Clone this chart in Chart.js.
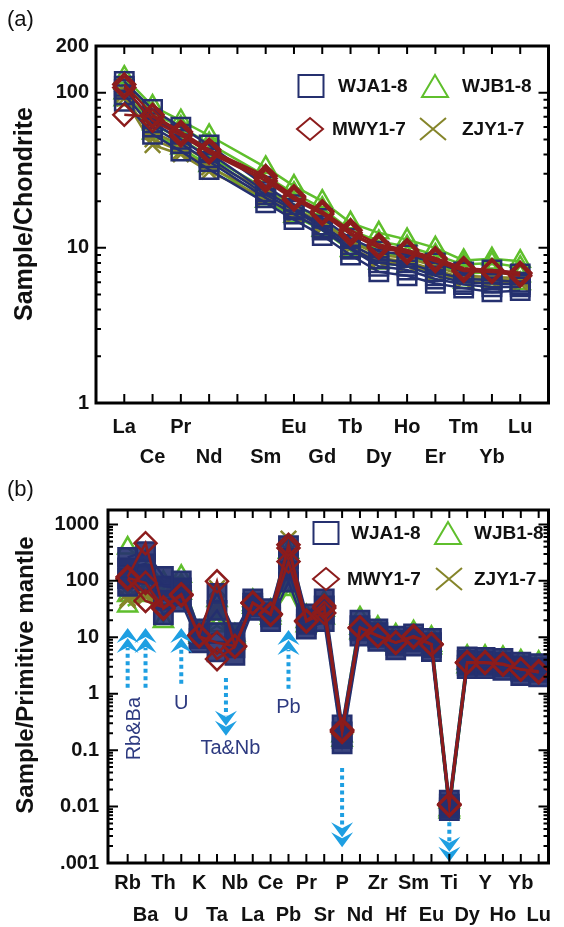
<!DOCTYPE html>
<html><head><meta charset="utf-8">
<script src="https://cdn.jsdelivr.net/npm/chart.js@4.4.0/dist/chart.umd.min.js"></script>
<style>
html,body{margin:0;padding:0;background:#fff;}
#wrap{position:relative;width:564px;height:927px;overflow:hidden;}
canvas{position:absolute;left:0;}
#ca{top:0;width:564px;height:470px;}
#cb{top:470px;width:564px;height:457px;}
.plab{position:absolute;font:22px "Liberation Sans",Arial,sans-serif;line-height:1;color:#111;}
</style></head><body>
<div id="wrap">
<canvas id="ca" width="564" height="470"></canvas>
<canvas id="cb" width="564" height="457"></canvas>
<div class="plab" style="left:7px;top:8px">(a)</div>
<div class="plab" style="left:7px;top:478px">(b)</div>
</div>
<script>
// ---------------- DATA ----------------
// Panel (a): chondrite-normalized REE (Pm slot left empty)
const reeLabels = ['La','Ce','Pr','Nd','','Sm','Eu','Gd','Tb','Dy','Ho','Er','Tm','Yb','Lu'];
const aYTicks = [1, 10, 100, 200];
const aYTickLabels = ['1', '10', '100', '200'];
//            La   Ce  Pr  Nd  Pm    Sm  Eu    Gd    Tb    Dy    Ho   Er   Tm   Yb   Lu
const reeWJA = [
  [118, 78, 60, 46, null, 25, 19, 15.5, 11.5, 9.5, 9, 8, 7, 7.2, 6.8],
  [105, 68, 54, 41, null, 23, 18, 14, 10.5, 8.5, 8, 7, 6.3, 6.2, 6],
  [97, 60, 47, 36, null, 21, 16.5, 13, 9.8, 7.6, 7.2, 6.3, 5.8, 5.6, 5.6],
  [88, 54, 42, 32, null, 19.5, 15.2, 12, 9, 7, 6.6, 5.9, 5.5, 5.2, 5.3],
  [110, 64, 50, 38, null, 22, 17.5, 13.5, 10, 8, 7.6, 6.6, 6, 5.9, 5.8]
];
const reeWJB = [
  [126, 82, 66, 53, null, 33, 25, 20, 14.5, 12.5, 11.3, 10, 8.3, 8.5, 8.2],
  [115, 74, 60, 47, null, 29, 22.5, 18, 13, 11, 10.2, 9, 7.8, 8, 7.5],
  [100, 63, 50, 39, null, 24, 19, 15, 11, 9.3, 8.8, 7.8, 6.8, 7, 6.6],
  [90, 55, 44, 34, null, 20, 16, 13, 9.6, 8, 7.6, 6.7, 6, 6.1, 5.9]
];
const reeMWY = [
  [113, 72, 56, 43, null, 29, 21.5, 17.2, 13, 10.5, 9.7, 8.6, 7.4, 7.2, 6.9],
  [72, 70, 55, 42, null, 28, 21, 17, 12.5, 10.2, 9.5, 8.4, 7.2, 7.1, 6.8],
  [108, 66, 53, 41, null, 27, 20.5, 16.5, 12.2, 10, 9.3, 8.2, 7.1, 7, 6.6]
];
const reeZJY = [
  [98, 50, 42, 33, null, 22, 17, 14, 10.5, 8.6, 8.2, 7.2, 6.4, 6.3, 6.2],
  [92, 46, 40, 31, null, 21, 16.2, 13.4, 10, 8.2, 7.8, 6.9, 6.1, 6, 5.9],
  [104, 56, 46, 36, null, 23.5, 18, 14.6, 11, 9, 8.6, 7.6, 6.6, 6.5, 6.4]
];

// Panel (b): primitive-mantle-normalized trace elements
const pmLabels = ['Rb','Ba','Th','U','K','Ta','Nb','La','Ce','Pb','Pr','Sr','P','Nd','Zr','Hf','Sm','Eu','Ti','Dy','Y','Ho','Yb','Lu'];
const bYTicks = [0.001, 0.01, 0.1, 1, 10, 100, 1000];
const bYTickLabels = ['.001', '0.01', '0.1', '1', '10', '100', '1000'];
//           Rb   Ba   Th   U    K    Ta  Nb  La  Ce  Pb   Pr  Sr  P     Nd  Zr  Hf   Sm   Eu  Ti     Dy  Y   Ho  Yb  Lu
const pmWJA = [
  [260, 330, 120, 100, 14, 60, 12, 48, 32, 420, 26, 48, 0.28, 20, 14, 10.5, 11.5, 9.5, 0.013, 4.5, 4.4, 4.2, 3.6, 3.4],
  [170, 200, 80, 75, 11.5, 30, 9, 40, 27, 250, 21, 36, 0.21, 16, 12, 8.8, 9.8, 8, 0.011, 3.9, 3.8, 3.6, 3.1, 2.9],
  [110, 130, 45, 55, 9.5, 12, 6.5, 35, 23, 150, 17, 26, 0.16, 13, 10, 7.2, 8.3, 6.6, 0.0095, 3.2, 3.2, 3, 2.5, 2.4],
  [80, 100, 25, 42, 8, 5.5, 4.8, 30, 19, 95, 14, 19, 0.13, 10.5, 8.5, 6, 7, 5.6, 0.0085, 2.8, 2.8, 2.6, 2.1, 2]
];
const pmWJB = [
  [380, 220, 95, 120, 12.5, 45, 11, 45, 30, 320, 24, 42, 0.25, 22, 15, 11, 12.5, 10, 0.012, 4.6, 4.6, 4.4, 3.8, 3.6],
  [36, 55, 19, 60, 10, 16, 10, 34, 22, 70, 16, 22, 0.15, 12, 10, 7.2, 8, 6.5, 0.008, 3, 3, 2.9, 2.4, 2.2],
  [55, 65, 48, 85, 11, 22, 8, 38, 25, 110, 19, 30, 0.18, 14.5, 12, 8.2, 9.2, 7.2, 0.0088, 3.5, 3.4, 3.3, 2.8, 2.6]
];
const pmMWY = [
  [112, 92, 33, 57, 10.6, 98, 7, 41, 25.5, 437, 19.4, 36, 0.22, 14.8, 10.5, 8, 10.5, 7.5, 0.011, 3.6, 3.6, 3.3, 2.7, 2.4],
  [118, 465, 32, 55, 10.4, 8, 7, 40, 25, 220, 19, 27, 0.21, 14.5, 10.8, 8, 10, 7.4, 0.011, 3.5, 3.5, 3.3, 2.7, 2.4],
  [108, 44, 34, 58, 10.8, 4.1, 6.8, 41, 26, 380, 19.8, 33, 0.23, 15, 10.6, 8.1, 10.4, 7.6, 0.0105, 3.6, 3.6, 3.4, 2.7, 2.5]
];
const pmZJY = [
  [49, 58, 60, 80, 11, 74, 9, 40, 25, 560, 20, 30, 0.17, 13, 11, 8, 9, 7, 0.0092, 3.3, 3.3, 3.1, 2.6, 2.4],
  [45, 62, 50, 72, 10, 40, 8.5, 37, 23, 250, 18, 27, 0.16, 12.5, 10.5, 7.6, 8.6, 6.7, 0.009, 3.1, 3.1, 2.9, 2.5, 2.3],
  [60, 52, 55, 75, 10.5, 29, 10, 42, 26, 330, 21, 34, 0.18, 13.5, 11, 8, 9.2, 7.1, 0.0095, 3.3, 3.2, 3, 2.5, 2.3]
];

const groupNames = ['WJA1-8', 'WJB1-8', 'MWY1-7', 'ZJY1-7'];

// Anomaly arrows in (b): x = element index, from/to = normalized values
const bArrows = [
  {x: 0, from: 1.28, to: 14.6},
  {x: 1, from: 1.28, to: 14.6},
  {x: 3, from: 1.5, to: 14.6},
  {x: 5.5, from: 1.9, to: 0.18},
  {x: 9, from: 1.22, to: 13.5},
  {x: 12, from: 0.048, to: 0.0019},
  {x: 18, from: 0.0053, to: 0.00105}
];
const bNotes = [
  {text: 'Rb&Ba', x: 0.4, y: 0.24, rot: true},
  {text: 'U', x: 3, y: 0.67},
  {text: 'Ta&Nb', x: 5.75, y: 0.107},
  {text: 'Pb', x: 9, y: 0.57}
];

// ---------------- STYLE ----------------
const FONT = '"Liberation Sans", Arial, Helvetica, sans-serif';
Chart.defaults.font.family = FONT;
Chart.defaults.color = '#111';
const NAVY = '#25306f', GREEN = '#5fbf2c', RED = '#8c1c1c', OLIVE = '#85852a';
const ARROW = '#1e9fe2', NOTE = '#2d3a80';

function mkSets(rows, color, style, r, fill, order) {
  return rows.map(vals => ({
    data: vals.map((v, i) => ({x: i, y: v})),
    borderColor: color, borderWidth: 2.5, tension: 0, spanGaps: true, fill: false,
    pointStyle: style, pointRadius: r, pointHoverRadius: r,
    pointBorderColor: color, pointBorderWidth: 2.5,
    pointBackgroundColor: fill ? fill : 'rgba(0,0,0,0)',
    order: order
  }));
}

function drawMarker(ctx, st, x, y, color) {
  ctx.strokeStyle = color; ctx.lineWidth = 2;
  ctx.beginPath();
  if (st === 'rect') { ctx.rect(x - 12.5, y - 11, 25, 22); }
  else if (st === 'triangle') { ctx.moveTo(x, y - 11); ctx.lineTo(x + 13, y + 11); ctx.lineTo(x - 13, y + 11); ctx.closePath(); }
  else if (st === 'diamond') { ctx.moveTo(x, y - 11); ctx.lineTo(x + 13, y); ctx.lineTo(x, y + 11); ctx.lineTo(x - 13, y); ctx.closePath(); }
  else { ctx.moveTo(x - 13, y - 11); ctx.lineTo(x + 13, y + 11); ctx.moveTo(x + 13, y - 11); ctx.lineTo(x - 13, y + 11); }
  ctx.stroke();
}

const decoPlugin = {
  id: 'deco',
  afterDatasetsDraw(chart, args, o) {
    const {ctx, chartArea: a, scales: {x, y}} = chart;
    ctx.save();
    // arrows
    (o.arrows || []).forEach(ar => {
      const px = x.getPixelForValue(ar.x), p0 = y.getPixelForValue(ar.from), p1 = y.getPixelForValue(ar.to);
      const dir = Math.sign(p1 - p0);
      ctx.strokeStyle = ARROW; ctx.fillStyle = ARROW;
      ctx.lineWidth = 4; ctx.setLineDash([4, 3.5]);
      ctx.beginPath(); ctx.moveTo(px, p0); ctx.lineTo(px, p1 - dir * 20); ctx.stroke();
      ctx.setLineDash([]);
      for (let k = 0; k < 2; k++) {
        const t = p1 - dir * k * 10;
        ctx.beginPath();
        ctx.moveTo(px, t);
        ctx.lineTo(px + 11, t - dir * 15);
        ctx.lineTo(px, t - dir * 9);
        ctx.lineTo(px - 11, t - dir * 15);
        ctx.closePath(); ctx.fill();
      }
    });
    (o.notes || []).forEach(n => {
      const px = x.getPixelForValue(n.x), py = y.getPixelForValue(n.y);
      ctx.fillStyle = NOTE; ctx.font = '20px ' + FONT;
      ctx.textAlign = 'center'; ctx.textBaseline = 'middle';
      if (n.rot) { ctx.save(); ctx.translate(px, py); ctx.rotate(-Math.PI / 2); ctx.fillText(n.text, 0, 0); ctx.restore(); }
      else ctx.fillText(n.text, px, py);
    });
    // ticks
    ctx.strokeStyle = '#000'; ctx.lineWidth = 2;
    ctx.beginPath();
    for (let i = 0; i < o.nx; i++) {
      const px = x.getPixelForValue(i);
      ctx.moveTo(px, a.bottom); ctx.lineTo(px, a.bottom - 9);
      ctx.moveTo(px, a.top); ctx.lineTo(px, a.top + 8);
    }
    o.decades.forEach(d => {
      for (let k = 1; k <= 9; k++) {
        const v = d * k;
        if (v < y.min * 0.999 || v > y.max * 1.001) continue;
        const py = y.getPixelForValue(v);
        const L = k === 1 ? 10 : 5;
        ctx.moveTo(a.left, py); ctx.lineTo(a.left + L, py);
        ctx.moveTo(a.right, py); ctx.lineTo(a.right - L, py);
      }
    });
    ctx.stroke();
    ctx.lineWidth = 3;
    ctx.strokeRect(a.left, a.top, a.right - a.left, a.bottom - a.top);
    // legend
    (o.legend || []).forEach(it => {
      drawMarker(ctx, it.st, it.mx, it.y, it.color);
      ctx.fillStyle = '#111'; ctx.font = 'bold 19px ' + FONT;
      ctx.textAlign = 'left'; ctx.textBaseline = 'middle';
      ctx.fillText(it.text, it.tx, it.y + 1);
    });
    // y title
    const t = o.ytitle;
    ctx.save(); ctx.translate(t.x, t.y); ctx.rotate(-Math.PI / 2);
    ctx.fillStyle = '#111'; ctx.font = 'bold ' + t.size + 'px ' + FONT;
    ctx.textAlign = 'center'; ctx.textBaseline = 'middle';
    ctx.fillText(t.text, 0, 0);
    ctx.restore();
    ctx.restore();
  }
};

function xScale(labels, min, max, h, pad, lh) {
  return {
    type: 'linear', min: min, max: max,
    grid: {display: false, drawTicks: false}, border: {display: false},
    afterBuildTicks: s => { s.ticks = labels.map((_, i) => ({value: i})); },
    afterFit: s => { s.height = h; s.paddingLeft = 0; s.paddingRight = 0; },
    ticks: {autoSkip: false, maxRotation: 0, padding: pad, color: '#111',
      font: {size: 20, weight: 'bold', lineHeight: lh},
      callback: (v, i) => i % 2 === 0 ? [labels[i], ''] : ['', labels[i]]}
  };
}
function yScale(ticks, labels, min, max, w, pad) {
  return {
    type: 'logarithmic', min: min, max: max,
    grid: {display: false, drawTicks: false}, border: {display: false},
    afterBuildTicks: s => { s.ticks = ticks.map(v => ({value: v})); },
    afterFit: s => { s.width = w; s.paddingTop = 0; s.paddingBottom = 0; },
    ticks: {autoSkip: false, padding: pad, color: '#111', font: {size: 20, weight: 'bold'},
      callback: (v, i) => labels[i]}
  };
}

// ---------------- CHART (a) ----------------
new Chart(document.getElementById('ca'), {
  type: 'line',
  data: {datasets: [
    ...mkSets(reeMWY, RED, 'rectRot', 11, null, 0),
    ...mkSets(reeWJA, NAVY, 'rect', 13, null, 1),
    ...mkSets(reeZJY, OLIVE, 'crossRot', 11, null, 2),
    ...mkSets(reeWJB, GREEN, 'triangle', 11, null, 3)
  ]},
  plugins: [decoPlugin],
  options: {
    responsive: false, animation: false, events: [],
    layout: {padding: {top: 46, right: 11, left: 0, bottom: 0}},
    plugins: {legend: {display: false}, tooltip: {enabled: false},
      deco: {
        nx: reeLabels.length, decades: [1, 10, 100],
        ytitle: {text: 'Sample/Chondrite', x: 25, y: 214, size: 25},
        legend: [
          {st: 'rect', color: NAVY, mx: 311, tx: 338, y: 86, text: groupNames[0]},
          {st: 'triangle', color: GREEN, mx: 435, tx: 462, y: 86, text: groupNames[1]},
          {st: 'diamond', color: RED, mx: 310, tx: 332, y: 129, text: groupNames[2]},
          {st: 'cross', color: OLIVE, mx: 433, tx: 462, y: 129, text: groupNames[3]}
        ]
      }},
    scales: {
      x: xScale(reeLabels, -1, 15, 67, 9, 1.5),
      y: yScale(aYTicks, aYTickLabels, 1, 200, 96, 7)
    }
  }
});

// ---------------- CHART (b) ----------------
new Chart(document.getElementById('cb'), {
  type: 'line',
  data: {datasets: [
    ...mkSets(pmMWY, RED, 'rectRot', 11, null, 0),
    ...mkSets(pmWJA, NAVY, 'rect', 13, 'rgba(37,48,111,0.9)', 1),
    ...mkSets(pmZJY, OLIVE, 'crossRot', 11, null, 2),
    ...mkSets(pmWJB, GREEN, 'triangle', 11, null, 3)
  ]},
  plugins: [decoPlugin],
  options: {
    responsive: false, animation: false, events: [],
    layout: {padding: {top: 40, right: 7, left: 0, bottom: 0}},
    plugins: {legend: {display: false}, tooltip: {enabled: false},
      deco: {
        nx: pmLabels.length, decades: [0.001, 0.01, 0.1, 1, 10, 100, 1000],
        arrows: bArrows, notes: bNotes,
        ytitle: {text: 'Sample/Primitive mantle', x: 26, y: 205, size: 24},
        legend: [
          {st: 'rect', color: NAVY, mx: 326, tx: 351, y: 63, text: groupNames[0]},
          {st: 'triangle', color: GREEN, mx: 448, tx: 474, y: 63, text: groupNames[1]},
          {st: 'diamond', color: RED, mx: 326, tx: 347, y: 109, text: groupNames[2]},
          {st: 'cross', color: OLIVE, mx: 449, tx: 474, y: 109, text: groupNames[3]}
        ]
      }},
    scales: {
      x: xScale(pmLabels, -1.1, 23.55, 64, 4, 1.6),
      y: yScale(bYTicks, bYTickLabels, 0.001, 1800, 108, 9)
    }
  }
});
</script>
</body></html>
